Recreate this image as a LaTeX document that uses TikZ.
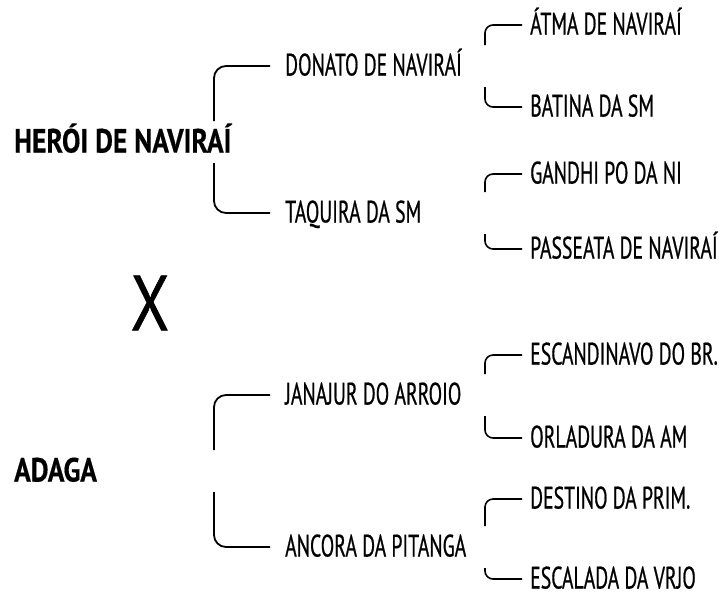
\documentclass[tikz,border=0pt]{standalone}
\usepackage{fontspec}
\setmainfont{PT Sans}
\newfontfamily\kinfont{PT Sans}[FakeStretch=0.636, FakeBold=0.6]
\newfontfamily\sirefont{PT Sans}[FakeStretch=0.82, FakeBold=0.4]
\newfontfamily\crossfont{PT Sans}[FakeStretch=0.8, FakeBold=0.7]
\usetikzlibrary{calc}

\begin{document}
\begin{tikzpicture}[x=1pt, y=-1pt,
  sire/.style={anchor=west, inner sep=0pt, text height=21pt, text depth=0pt,
               font=\sirefont\fontsize{33.5}{34}\selectfont\bfseries},
  kin/.style={anchor=west, inner sep=0pt, text height=19pt, text depth=0pt,
              font=\kinfont\fontsize{31}{31}\selectfont},
  bracket/.style={line width=1.8pt, rounded corners=12pt, shorten >=15pt},
  subbracket/.style={line width=1.6pt, rounded corners=8pt, shorten >=8pt}]

\useasboundingbox (0,0) rectangle (719,595);

% Columns of the two bracket levels
\coordinate (colA) at (214,0);
\coordinate (colB) at (485,0);

% First pedigree
\node[sire] (heroi) at (14,142) {HERÓI DE NAVIRAÍ};
\node[kin] (donato) at (285,66) {DONATO DE NAVIRAÍ};
\node[kin] (taquira) at (285,213) {TAQUIRA DA SM};
\node[kin] (atma) at (530,25) {ÁTMA DE NAVIRAÍ};
\node[kin] (batina) at (530,107) {BATINA DA SM};
\node[kin] (gandhi) at (530,174) {GANDHI PO DA NI};
\node[kin] (passeata) at (530,249) {PASSEATA DE NAVIRAÍ};

% Cross sign
\node[font=\crossfont\fontsize{78}{78}\selectfont, inner sep=0pt] (cross) at (150,303) {X};

% Second pedigree
\node[sire] (adaga) at (14,471) {ADAGA};
\node[kin] (janajur) at (285,395) {JANAJUR DO ARROIO};
\node[kin] (ancora) at (285,547) {ANCORA DA PITANGA};
\node[kin] (escandinavo) at (530,355) {ESCANDINAVO DO BR.};
\node[kin] (orladura) at (530,438) {ORLADURA DA AM};
\node[kin] (destino) at (530,499) {DESTINO DA PRIM.};
\node[kin] (escalada) at (530,579) {ESCALADA DA VRJO};

% Brackets to the parents
\foreach \p/\u/\l in {heroi/donato/taquira, adaga/janajur/ancora} {
    \draw[bracket] ($(colA |- \p)+(0,-21)$) |- (\u.west);
    \draw[bracket] ($(colA |- \p)+(0,21)$) |- (\l.west);
}

% Brackets to the grandparents
\foreach \p/\u/\l in {donato/atma/batina, taquira/gandhi/passeata,
                      janajur/escandinavo/orladura, ancora/destino/escalada} {
    \draw[subbracket] ($(colB |- \p)+(0,-21)$) |- (\u.west);
    \draw[subbracket] ($(colB |- \p)+(0,21)$) |- (\l.west);
}

\end{tikzpicture}
\end{document}
